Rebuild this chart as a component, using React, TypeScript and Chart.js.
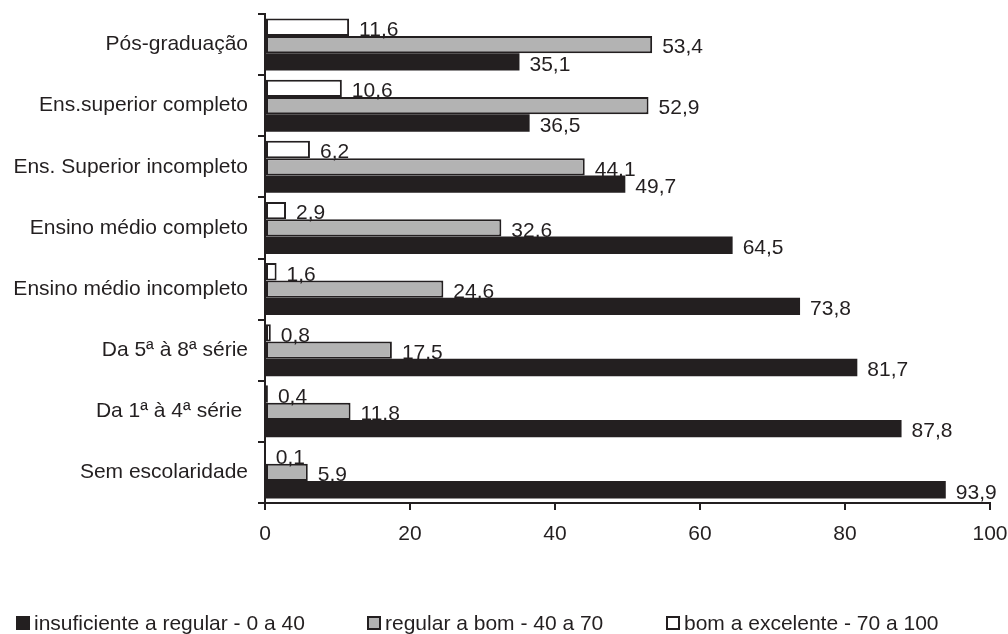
import React, { useEffect, useRef } from 'react';
import { Chart, registerables } from 'chart.js';

Chart.register(...registerables);

const categories = [
  'Pós-graduação',
  'Ens.superior completo',
  'Ens. Superior incompleto',
  'Ensino médio completo',
  'Ensino médio incompleto',
  'Da 5ª à 8ª série',
  'Da 1ª à 4ª série ',
  'Sem escolaridade',
];
const seriesNames = [
  'insuficiente a regular - 0 a 40',
  'regular a bom - 40 a 70',
  'bom a excelente - 70 a 100',
];
const insuficiente = [35.1, 36.5, 49.7, 64.5, 73.8, 81.7, 87.8, 93.9];
const regularBom = [53.4, 52.9, 44.1, 32.6, 24.6, 17.5, 11.8, 5.9];
const bomExcelente = [11.6, 10.6, 6.2, 2.9, 1.6, 0.8, 0.4, 0.1];
const xMin = 0;
const xMax = 100;
const xStep = 20;

const INK = '#231f20';
const GRAY = '#b3b3b3';
const FONT = '"Liberation Sans", Arial, sans-serif';
const FS = 21;

const fmt = (v: number) => v.toFixed(1).replace('.', ',');

const zeroPadding = (s: any) => {
  s.paddingTop = 0;
  s.paddingBottom = 0;
  s.paddingLeft = 0;
  s.paddingRight = 0;
};

const valueLabels = {
  id: 'valueLabels',
  afterDatasetsDraw(chart: any) {
    const ctx = chart.ctx;
    ctx.save();
    ctx.font = `${FS}px ${FONT}`;
    ctx.fillStyle = INK;
    ctx.textAlign = 'left';
    ctx.textBaseline = 'middle';
    chart.data.datasets.forEach((ds: any, di: number) => {
      const meta = chart.getDatasetMeta(di);
      meta.data.forEach((el: any, i: number) => {
        ctx.fillText(fmt(ds.data[i]), el.x + 10, el.y + 3);
      });
    });
    ctx.restore();
  },
};

const bottomLegend = {
  id: 'bottomLegend',
  afterDraw(chart: any) {
    const ctx = chart.ctx;
    const order = [2, 1, 0];
    const boxX = [17, 368, 667];
    const y = 623;
    ctx.save();
    ctx.font = `${FS}px ${FONT}`;
    ctx.textBaseline = 'middle';
    ctx.textAlign = 'left';
    order.forEach((di, k) => {
      const ds = chart.data.datasets[di];
      const bx = boxX[k];
      const s = 12;
      ctx.fillStyle = ds.backgroundColor;
      ctx.fillRect(bx, y - s / 2, s, s);
      ctx.lineWidth = 2;
      ctx.strokeStyle = INK;
      ctx.strokeRect(bx, y - s / 2, s, s);
      ctx.fillStyle = INK;
      ctx.fillText(ds.label, bx + s + 5, y + 1);
    });
    ctx.restore();
  },
};

export default function App() {
  const ref = useRef<HTMLCanvasElement | null>(null);
  useEffect(() => {
    if (!ref.current) return;
    const chart = new Chart(ref.current, {
      type: 'bar',
      data: {
        labels: categories,
        datasets: [
          {
            label: seriesNames[2],
            data: bomExcelente,
            backgroundColor: '#ffffff',
            borderColor: INK,
            borderWidth: 2,
            borderSkipped: false,
          },
          {
            label: seriesNames[1],
            data: regularBom,
            backgroundColor: GRAY,
            borderColor: INK,
            borderWidth: 2,
            borderSkipped: false,
          },
          {
            label: seriesNames[0],
            data: insuficiente,
            backgroundColor: INK,
            borderColor: INK,
            borderWidth: 0,
          },
        ],
      },
      options: {
        indexAxis: 'y',
        responsive: false,
        animation: false,
        layout: { padding: { top: 14, right: 18, left: 0, bottom: 0 } },
        datasets: {
          bar: { categoryPercentage: 0.85, barPercentage: 1 },
        },
        plugins: {
          legend: { display: false },
          tooltip: { enabled: false },
        },
        scales: {
          x: {
            min: xMin,
            max: xMax,
            ticks: {
              stepSize: xStep,
              color: INK,
              font: { family: FONT, size: FS },
              padding: 12,
            },
            grid: {
              drawOnChartArea: false,
              drawTicks: true,
              tickLength: 7,
              color: INK,
              lineWidth: 2,
            },
            border: { color: INK, width: 2 },
            afterFit: (s: any) => {
              s.height = 131;
              zeroPadding(s);
            },
          },
          y: {
            ticks: {
              color: INK,
              font: { family: FONT, size: FS },
              padding: 10,
            },
            grid: {
              drawOnChartArea: false,
              drawTicks: true,
              tickLength: 7,
              color: INK,
              lineWidth: 2,
            },
            border: { color: INK, width: 2 },
            afterFit: (s: any) => {
              s.width = 265;
              zeroPadding(s);
            },
          },
        },
      },
      plugins: [valueLabels, bottomLegend],
    });
    return () => chart.destroy();
  }, []);
  return (
    <div style={{ position: 'absolute', left: 0, top: 0, width: 1008, height: 634, background: '#fff' }}>
      <canvas ref={ref} width={1008} height={634} />
    </div>
  );
}
